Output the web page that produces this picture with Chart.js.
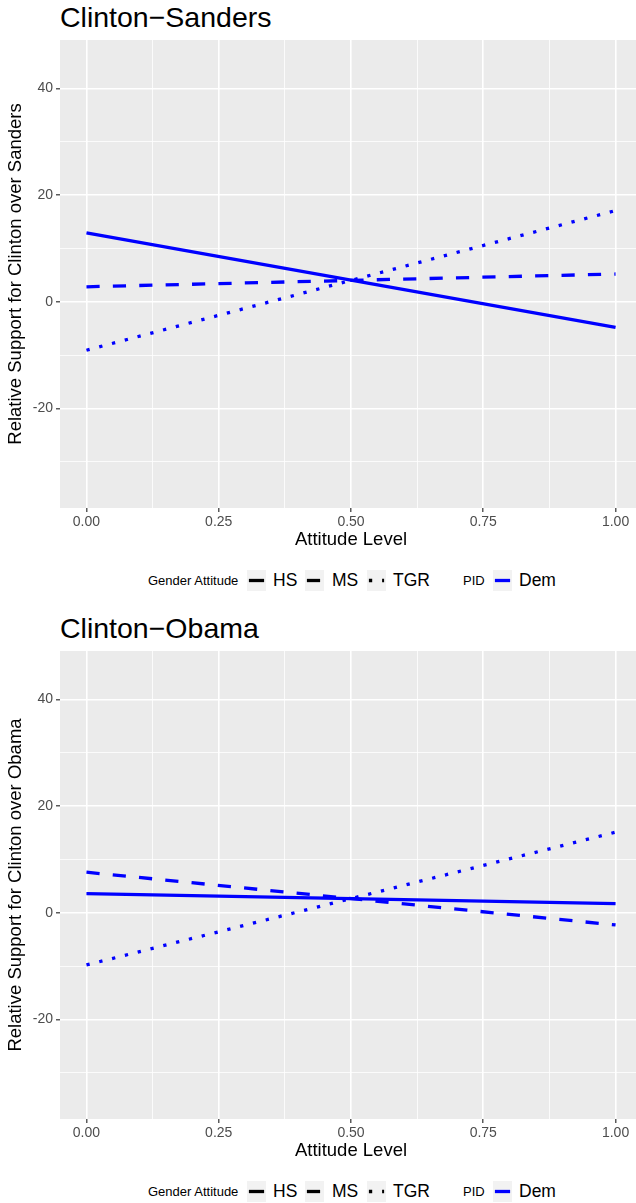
<!DOCTYPE html>
<html>
<head>
<meta charset="utf-8">
<script src="https://cdn.jsdelivr.net/npm/chart.js@4"></script>
<style>
  body { margin: 0; width: 636px; height: 1203px; overflow: hidden; background: #fff; font-family: "Liberation Sans", Arial, sans-serif; }
  .panel { position: absolute; left: 0; width: 642px; height: 611px; }
  .ptitle { position: absolute; left: 60px; top: 3px; font-size: 28.5px; line-height: 1; color: #000; white-space: nowrap; }
  .chartbox { position: absolute; left: 0; top: 0; width: 642px; height: 560px; }
  .lg { position: absolute; top: 570px; height: 21px; line-height: 21px; color: #000; white-space: nowrap; }
  .lg.small { font-size: 13px; }
  .lg.big { font-size: 17.5px; }
  .lg svg { display: block; }
</style>
</head>
<body>

<div class="panel" style="top:0px">
  <div class="ptitle">Clinton−Sanders</div>
  <div class="chartbox"><canvas id="canvas-sanders"></canvas></div>
  <div id="legend-sanders"></div>
</div>

<div class="panel" style="top:611px">
  <div class="ptitle">Clinton−Obama</div>
  <div class="chartbox"><canvas id="canvas-obama"></canvas></div>
  <div id="legend-obama"></div>
</div>

<script>
// values (predicted support at attitude level 0 and 1)
var attitudeLevels = [0, 1];
var genderLevels = ["HS", "MS", "TGR"];

var sandersHS = [12.9, -4.8];
var sandersMS = [2.8, 5.2];
var sandersTGR = [-9.1, 17.1];

var obamaHS = [3.6, 1.7];
var obamaMS = [7.6, -2.3];
var obamaTGR = [-9.8, 15.1];

var xTicks = [0, 0.125, 0.25, 0.375, 0.5, 0.625, 0.75, 0.875, 1];
var yTicks = [-30, -20, -10, 0, 10, 20, 30, 40];

var lineDashes = { HS: [], MS: [13.2, 13.2], TGR: [3.3, 9.9] };
var lineBlue = "#0000ff";

Chart.defaults.font.family = `"Liberation Sans", Arial, sans-serif`;

var panelBg = {
    id: "panelBg",
    beforeDraw: function(chart){
        var a = chart.chartArea;
        var ctx = chart.ctx;
        ctx.save();
        ctx.fillStyle = "#ebebeb";
        ctx.fillRect(a.left, a.top, a.right - a.left, a.bottom - a.top);
        ctx.restore();
    }
};

function toPoints(values){
    return attitudeLevels.map((x, i) => ({ x: x, y: values[i] }));
}

function fillCanvas(params){

    var datasets = params.series.map((values, i) => ({
        label: genderLevels[i],
        data: toPoints(values),
        borderColor: lineBlue,
        borderWidth: 3.3,
        borderDash: lineDashes[genderLevels[i]],
        pointRadius: 0,
        fill: false,
        tension: 0,
    }));

    var myChart = new Chart(params.container, {
        type: "line",
        data: { datasets: datasets },
        plugins: [panelBg],
        options: {
            responsive: true,
            maintainAspectRatio: false,
            animation: false,
            layout: { padding: { top: 40, left: 0, right: 0, bottom: 0 } },
            plugins: { legend: { display: false }, tooltip: { enabled: false } },
            scales: {
                x: {
                    type: "linear",
                    min: -0.05,
                    max: 1.05,
                    afterBuildTicks: function(scale){ scale.ticks = xTicks.map(v => ({ value: v })); },
                    afterFit: function(scale){ scale.height = 52; },
                    border: { display: false },
                    grid: {
                        color: "#ffffff",
                        lineWidth: ctx => (ctx.tick && ctx.tick.value % 0.25 === 0) ? 1.6 : 0.8,
                        tickLength: 4,
                        tickColor: ctx => (ctx.tick && ctx.tick.value % 0.25 === 0) ? "#333333" : "rgba(0,0,0,0)",
                        tickWidth: 1.2,
                    },
                    ticks: {
                        autoSkip: false,
                        maxRotation: 0,
                        padding: 2,
                        color: "#4d4d4d",
                        font: { size: 14 },
                        callback: v => v % 0.25 === 0 ? v.toFixed(2) : "",
                    },
                    title: {
                        display: true,
                        text: "Attitude Level",
                        color: "#000000",
                        font: { size: 18.5 },
                        padding: { top: 9, bottom: 9 },
                    }
                },
                y: {
                    type: "linear",
                    min: -38.7,
                    max: 49.1,
                    afterBuildTicks: function(scale){ scale.ticks = yTicks.map(v => ({ value: v })); },
                    afterFit: function(scale){ scale.width = 60; },
                    border: { display: false },
                    grid: {
                        color: "#ffffff",
                        lineWidth: ctx => (ctx.tick && ctx.tick.value % 20 === 0) ? 1.6 : 0.8,
                        tickLength: 4,
                        tickColor: ctx => (ctx.tick && ctx.tick.value % 20 === 0) ? "#333333" : "rgba(0,0,0,0)",
                        tickWidth: 1.2,
                    },
                    ticks: {
                        autoSkip: false,
                        padding: 3,
                        color: "#4d4d4d",
                        font: { size: 14 },
                        callback: v => v % 20 === 0 ? `${v}` : "",
                    },
                    title: {
                        display: true,
                        text: params.yTitle,
                        color: "#000000",
                        font: { size: 18.5 },
                        padding: { top: 5, bottom: 5 },
                    }
                }
            }
        }
    });

    return myChart;
}

function keySvg(color, dash){
    return `<svg width="19" height="21"><rect width="19" height="21" fill="#f2f2f2"/>` +
        `<line x1="1.9" y1="10.5" x2="17.1" y2="10.5" stroke="${color}" stroke-width="3.3" stroke-dasharray="${dash.length ? dash.join(" ") : "none"}"/></svg>`;
}

function fillLegend(target){
    var keyLeft = [247, 305, 367];
    var textLeft = [273, 332, 393];
    var html = `<div class="lg small" style="left:148px">Gender Attitude</div>`;
    genderLevels.forEach((g, i) => {
        html += `<div class="lg" style="left:${keyLeft[i]}px">${keySvg("#000000", lineDashes[g])}</div>`;
        html += `<div class="lg big" style="left:${textLeft[i]}px">${g}</div>`;
    });
    html += `<div class="lg small" style="left:463px">PID</div>`;
    html += `<div class="lg" style="left:493px">${keySvg(lineBlue, [])}</div>`;
    html += `<div class="lg big" style="left:519px">Dem</div>`;
    document.getElementById(target).innerHTML = html;
}

fillCanvas({
    container: document.getElementById("canvas-sanders"),
    series: [sandersHS, sandersMS, sandersTGR],
    yTitle: "Relative Support for Clinton over Sanders",
});
fillLegend("legend-sanders");

fillCanvas({
    container: document.getElementById("canvas-obama"),
    series: [obamaHS, obamaMS, obamaTGR],
    yTitle: "Relative Support for Clinton over Obama",
});
fillLegend("legend-obama");
</script>
</body>
</html>
